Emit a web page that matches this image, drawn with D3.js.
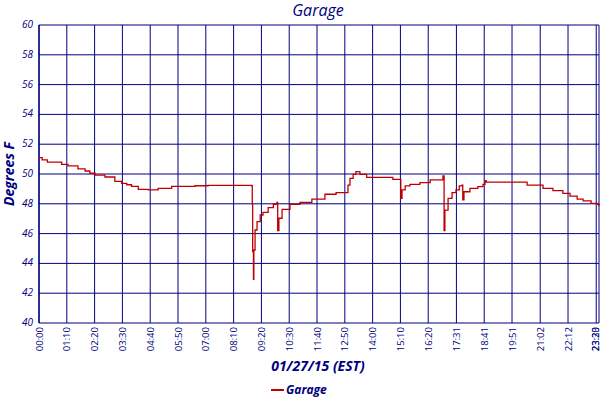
<!DOCTYPE html>
<html>
<head>
<meta charset="utf-8">
<script src="https://cdn.jsdelivr.net/npm/d3@7"></script>
<style>
body { margin: 0; background: #fff; }
text { fill: #000080; font-family: "Open Sans", "DejaVu Sans", sans-serif; }
</style>
</head>
<body>
<div id="chart"></div>
<script>
const svgWidth = 600;
const svgHeight = 400;

const margin = { top: 25, right: 1, bottom: 77, left: 39 };
const width = svgWidth - margin.left - margin.right;
const height = svgHeight - margin.top - margin.bottom;

// minutes after midnight for each tick, with the labels the logger printed
const tickMinutes = [0, 70, 140, 210, 280, 350, 420, 490, 560, 630, 700, 770, 840, 910, 980, 1051, 1121, 1191, 1262, 1332, 1403, 1410];
const tickLabels = ["00:00", "01:10", "02:20", "03:30", "04:40", "05:50", "07:00", "08:10", "09:20", "10:30", "11:40", "12:50", "14:00", "15:10", "16:20", "17:31", "18:41", "19:51", "21:02", "22:12", "23:23", "23:30"];
const yTicks = [40, 42, 44, 46, 48, 50, 52, 54, 56, 58, 60];

// Garage temperature readings (minutes, degrees F)
const minutes = [0, 8, 21, 48, 57, 73, 98, 116, 128, 141, 166, 191, 208, 221, 233, 250, 275, 300, 334, 393, 426, 494,
	536, 537, 538, 540, 541, 544, 549, 557, 564, 577, 590, 599, 601, 604, 612, 632, 657, 687, 720, 748, 773,
	778, 783, 791, 798, 808, 825, 859, 891, 909, 911, 914, 922, 934, 959, 985, 1017, 1020, 1022, 1030, 1040,
	1050, 1058, 1065, 1067, 1070, 1085, 1105, 1118, 1123, 1126, 1194, 1229, 1269, 1294, 1319, 1337, 1355,
	1370, 1390, 1405, 1410];
const temps = [51.1, 50.95, 50.8, 50.8, 50.65, 50.55, 50.35, 50.2, 50.05, 49.93, 49.8, 49.5, 49.37, 49.28, 49.17, 48.97, 48.93, 49.04, 49.17, 49.21, 49.24, 49.24,
	49.21, 48.0, 44.8, 42.93, 44.9, 46.24, 46.8, 47.25, 47.43, 47.74, 47.97, 48.1, 46.2, 47.03, 47.63, 47.97, 48.1, 48.32, 48.64, 48.75, 48.75,
	49.26, 49.71, 49.98, 50.16, 49.98, 49.78, 49.78, 49.64, 49.64, 48.37, 48.93, 49.2, 49.3, 49.42, 49.6, 49.87, 46.2, 47.58, 48.37, 48.75,
	48.93, 49.2, 49.26, 48.26, 48.81, 49.04, 49.15, 49.3, 49.55, 49.45, 49.45, 49.26, 49.04, 48.88, 48.7, 48.52, 48.32,
	48.19, 48.03, 47.97, 47.85];

const seriesName = "Garage";
const navy = "#000080";
const red = "#c00000";

const svg = d3.select("#chart")
	.append("svg")
	.attr("width", svgWidth)
	.attr("height", svgHeight);

const chartGroup = svg.append("g")
	.attr("transform", `translate(${margin.left}, ${margin.top})`);

const xScale = d3.scaleLinear().domain([0, 1410]).range([0, width]);
const yScale = d3.scaleLinear().domain([40, 60]).range([height, 0]);

// grid
chartGroup.append("g")
	.selectAll("line")
	.data(yTicks)
	.enter()
	.append("line")
	.attr("x1", 0).attr("x2", width)
	.attr("y1", d => yScale(d)).attr("y2", d => yScale(d))
	.attr("stroke", navy).attr("stroke-width", 1);

chartGroup.append("g")
	.selectAll("line")
	.data(tickMinutes)
	.enter()
	.append("line")
	.attr("x1", d => xScale(d)).attr("x2", d => xScale(d))
	.attr("y1", 0).attr("y2", height)
	.attr("stroke", navy).attr("stroke-width", 1);

chartGroup.append("line")
	.attr("x1", 0).attr("x2", 0).attr("y1", 0).attr("y2", height)
	.attr("stroke", navy).attr("stroke-width", 1.3);

// y tick labels
chartGroup.append("g")
	.selectAll("text")
	.data(yTicks)
	.enter()
	.append("text")
	.attr("x", -6)
	.attr("y", d => yScale(d) + 3)
	.attr("text-anchor", "end")
	.style("font-size", "10px")
	.style("font-style", "italic")
	.text(d => d);

// x tick labels, rotated (the last ones are squeezed against the right edge)
chartGroup.append("g")
	.selectAll("text")
	.data(tickMinutes)
	.enter()
	.append("text")
	.attr("transform", d => `translate(${Math.min(xScale(d) + 3.5, width - 0.5)}, ${height + 4}) rotate(-90)`)
	.attr("text-anchor", "end")
	.style("font-size", "9.5px")
	.text((d, i) => tickLabels[i]);

// data line
const points = minutes.map((m, i) => [m, temps[i]]);
const line = d3.line()
	.x(d => xScale(d[0]))
	.y(d => yScale(d[1]))
	.curve(d3.curveStepAfter);

chartGroup.append("path")
	.datum(points)
	.attr("d", line)
	.attr("fill", "none")
	.attr("stroke", red)
	.attr("stroke-width", 1.3);

// titles
svg.append("text")
	.attr("x", 318).attr("y", 16)
	.attr("text-anchor", "middle")
	.style("font-size", "16px")
	.style("font-style", "italic")
	.text(seriesName);

svg.append("text")
	.attr("x", 318).attr("y", 371)
	.attr("text-anchor", "middle")
	.style("font-size", "14px")
	.style("font-style", "italic")
	.style("font-weight", "bold")
	.text("01/27/15 (EST)");

svg.append("text")
	.attr("transform", `translate(14, ${margin.top + height / 2}) rotate(-90)`)
	.attr("text-anchor", "middle")
	.style("font-size", "14px")
	.style("font-style", "italic")
	.style("font-weight", "bold")
	.text("Degrees F");

// legend
svg.append("line")
	.attr("x1", 271).attr("x2", 284)
	.attr("y1", 390).attr("y2", 390)
	.attr("stroke", red).attr("stroke-width", 2);

svg.append("text")
	.attr("x", 286).attr("y", 394)
	.style("font-size", "12px")
	.style("font-style", "italic")
	.style("font-weight", "bold")
	.text(seriesName);
</script>
</body>
</html>
